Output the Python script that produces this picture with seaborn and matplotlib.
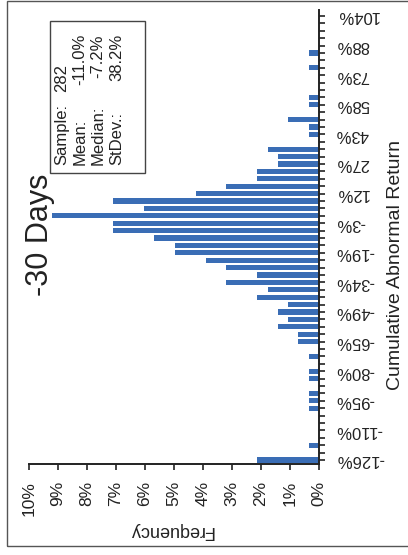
import numpy as np
import pandas as pd
import seaborn as sns
import matplotlib.pyplot as plt
from matplotlib.patches import Rectangle

# number of events per return bin, from -126% (bottom) up to 104% (top)
counts = [6, 0, 1, 0, 0, 0, 0, 1, 1, 1,
          0, 1, 1, 0, 1, 0, 2, 2, 4, 3,
          4, 3, 6, 5, 9, 6, 9, 11, 14, 14,
          16, 20, 20, 26, 17, 20, 12, 9, 6, 6,
          4, 4, 5, 0, 1, 1, 3, 0, 1, 1,
          0, 0, 0, 1, 0, 1, 0, 0, 0, 0, 0]
sample = 282
ret_labels = ["-126%", "-110%", "-95%", "-80%", "-65%", "-49%", "-34%", "-19%",
              "-3%", "12%", "27%", "43%", "58%", "73%", "88%", "104%"]
freq_labels = [f"{i}%" for i in range(11)]
stat_names = ["Sample:", "Mean:", "Median:", "StDev.:"]
stat_values = ["282", "-11.0%", "-7.2%", "38.2%"]
title = "-30 Days"

sns.set_style("white")
plt.rcParams["font.family"] = ["Liberation Sans", "DejaVu Sans"]
ink = "#222222"

W, H = 408, 555
fig = plt.figure(figsize=(W / 100, H / 100), dpi=100)
# axes box in pixels: x 29..319, y 10..464
ax = fig.add_axes([29 / W, 1 - 464 / H, 290 / W, 454 / H])

centers = np.linspace(-126, 104, len(counts))
df = pd.DataFrame({"ret": centers, "freq": np.array(counts) / sample * 100})
sns.barplot(data=df, x="freq", y="ret", orient="y", native_scale=True,
            width=0.7, color="#3a6db5", saturation=1, linewidth=0,
            errorbar=None, ax=ax)

ax.set_xlim(10, 0)
ax.set_ylim(-128.1, 107.1)
ax.set_xlabel("")
ax.set_ylabel("")

ax.set_xticks(range(11))
ax.set_xticklabels(freq_labels, rotation=90, fontsize=12.5, color=ink)
ax.yaxis.tick_right()
ax.set_yticks(np.linspace(-126, 104, len(ret_labels)))
ax.set_yticklabels(ret_labels, rotation=180, va="center", ha="left",
                   fontsize=12, color=ink)
ax.set_yticks(centers, minor=True)

ax.tick_params(axis="x", which="major", bottom=True, direction="out",
               length=4, width=1.2, pad=8, color=ink)
ax.tick_params(axis="y", which="both", right=True, left=False,
               direction="out", length=4, width=1.2, pad=8, color=ink)

for side in ["left", "top"]:
    ax.spines[side].set_visible(False)
for side in ["right", "bottom"]:
    ax.spines[side].set_color(ink)
    ax.spines[side].set_linewidth(1.4)

# axis titles (rotated like the source figure)
fig.text(171 / W, 1 - 530 / H, "Frequency", rotation=180, ha="center",
         va="center", fontsize=13, color=ink)
fig.text(395 / W, 1 - 265 / H, "Cumulative Abnormal Return", rotation=90,
         ha="center", va="center", fontsize=14, color=ink)
fig.text(40 / W, 1 - 235 / H, title, rotation=90, ha="center", va="center",
         fontsize=22, color=ink)

# stats box
fig.add_artist(Rectangle((50 / W, 1 - 173 / H), 95 / W, 152 / H,
                         transform=fig.transFigure, fill=False,
                         edgecolor="#444444", linewidth=1))
cols = [62, 80, 98, 117]
for i, (name, val) in enumerate(zip(stat_names, stat_values)):
    fig.text(cols[i] / W, 1 - 165 / H, name, rotation=90, ha="center",
             va="bottom", fontsize=12, color=ink)
    if i == 0:
        fig.text(cols[i] / W, 1 - 92 / H, val, rotation=90, ha="center",
                 va="bottom", fontsize=12, color=ink)
    else:
        fig.text(cols[i] / W, 1 - 34 / H, val, rotation=90, ha="center",
                 va="top", fontsize=12, color=ink)

# outer frame
fig.add_artist(Rectangle((7 / W, 1 - 546 / H), 410 / W, 545 / H,
                         transform=fig.transFigure, fill=False,
                         edgecolor="#555555", linewidth=1))

fig.savefig("out.png", dpi=100)
